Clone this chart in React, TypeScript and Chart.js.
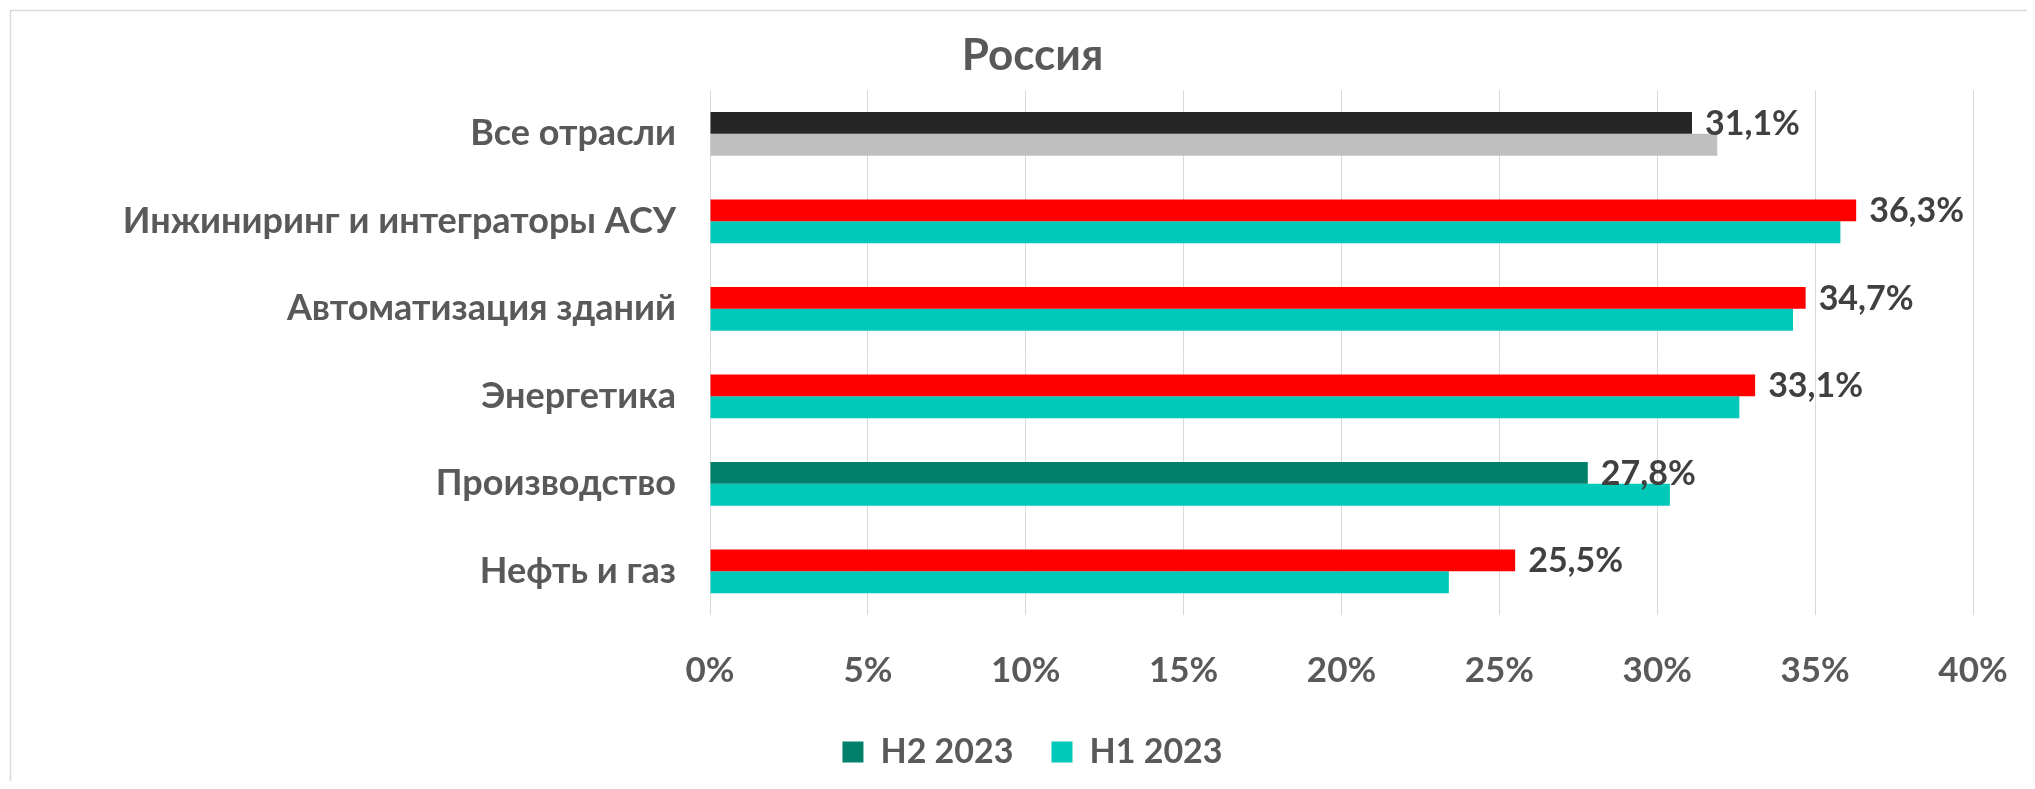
import React, { useEffect, useRef } from "react";
import { Chart, registerables } from "chart.js";

Chart.register(...registerables);

const titleText = "Россия";
const categories = [
  "Все отрасли",
  "Инжиниринг и интеграторы АСУ",
  "Автоматизация зданий",
  "Энергетика",
  "Производство",
  "Нефть и газ",
];
const seriesNames = ["H2 2023", "H1 2023"];
const h2Values = [31.1, 36.3, 34.7, 33.1, 27.8, 25.5];
const h1Values = [31.9, 35.8, 34.3, 32.6, 30.4, 23.4];
const h2Labels = ["31,1%", "36,3%", "34,7%", "33,1%", "27,8%", "25,5%"];
const h2Colors = ["#262626", "#ff0000", "#ff0000", "#ff0000", "#007f6a", "#ff0000"];
const h1Colors = ["#bfbfbf", "#00c9b9", "#00c9b9", "#00c9b9", "#00c9b9", "#00c9b9"];
const legendColors = ["#007f6a", "#00c9b9"];
const axisMin = 0;
const axisMax = 40;
const axisStep = 5;

const FONT = "Lato";

const frameAndLabels = {
  id: "frameAndLabels",
  beforeDraw(chart: any) {
    const ctx = chart.ctx;
    ctx.save();
    ctx.strokeStyle = "#d9d9d9";
    ctx.lineWidth = 1.5;
    ctx.beginPath();
    ctx.moveTo(2, 2.5);
    ctx.lineTo(chart.width, 2.5);
    ctx.moveTo(2.5, 2);
    ctx.lineTo(2.5, chart.height);
    ctx.stroke();
    ctx.restore();
  },
  afterDatasetsDraw(chart: any) {
    const ctx = chart.ctx;
    const meta = chart.getDatasetMeta(0);
    ctx.save();
    ctx.font = `bold 34px ${FONT}`;
    ctx.fillStyle = "#404040";
    ctx.textAlign = "left";
    ctx.textBaseline = "middle";
    meta.data.forEach((bar: any, i: number) => {
      ctx.fillText(h2Labels[i], bar.x + 13, bar.y + 1);
    });
    ctx.restore();
  },
};

export default function App() {
  const ref = useRef<HTMLCanvasElement>(null);

  useEffect(() => {
    if (!ref.current) return;
    const chart = new Chart(ref.current, {
      type: "bar",
      data: {
        labels: categories,
        datasets: [
          {
            label: seriesNames[0],
            data: h2Values,
            backgroundColor: h2Colors,
            categoryPercentage: 0.5,
            barPercentage: 1.0,
          },
          {
            label: seriesNames[1],
            data: h1Values,
            backgroundColor: h1Colors,
            categoryPercentage: 0.5,
            barPercentage: 1.0,
          },
        ],
      },
      options: {
        indexAxis: "y",
        animation: false,
        responsive: true,
        maintainAspectRatio: false,
        layout: { padding: { left: 84, right: 54, top: 0, bottom: 2 } },
        plugins: {
          title: {
            display: true,
            text: titleText,
            color: "#595959",
            font: { family: FONT, size: 44, weight: "bold", lineHeight: 1.2 },
            padding: { top: 21.6, bottom: 7.6 },
          },
          legend: {
            display: true,
            position: "bottom",
            labels: {
              font: { family: FONT, size: 34, weight: "bold" },
              color: "#595959",
              boxWidth: 21,
              boxHeight: 21,
              padding: 38,
              generateLabels: () =>
                seriesNames.map((name, i) => ({
                  text: name,
                  fillStyle: legendColors[i],
                  strokeStyle: legendColors[i],
                  lineWidth: 0,
                  hidden: false,
                  datasetIndex: i,
                  fontColor: "#595959",
                })),
            },
          },
          tooltip: { enabled: false },
        },
        scales: {
          x: {
            min: axisMin,
            max: axisMax,
            ticks: {
              stepSize: axisStep,
              callback: (v: any) => `${v}%`,
              color: "#595959",
              font: { family: FONT, size: 35, weight: "bold", lineHeight: 1.2 },
              padding: 35,
            },
            grid: { color: "#d9d9d9", lineWidth: 1, drawTicks: false },
            border: { display: false },
            afterFit: (scale: any) => {
              scale.height = 82;
              scale.paddingLeft = 0;
              scale.paddingRight = 0;
            },
          },
          y: {
            ticks: {
              color: "#595959",
              font: { family: FONT, size: 36, weight: "bold" },
              padding: 34,
            },
            grid: { display: false, drawTicks: false },
            border: { display: false },
            afterFit: (scale: any) => {
              scale.width = 618;
              scale.paddingTop = 0;
              scale.paddingBottom = 0;
            },
          },
        },
      },
      plugins: [frameAndLabels],
    });
    return () => chart.destroy();
  }, []);

  return (
    <div style={{ width: "2019px", height: "773px", position: "relative", background: "#ffffff" }}>
      <canvas ref={ref} />
    </div>
  );
}
